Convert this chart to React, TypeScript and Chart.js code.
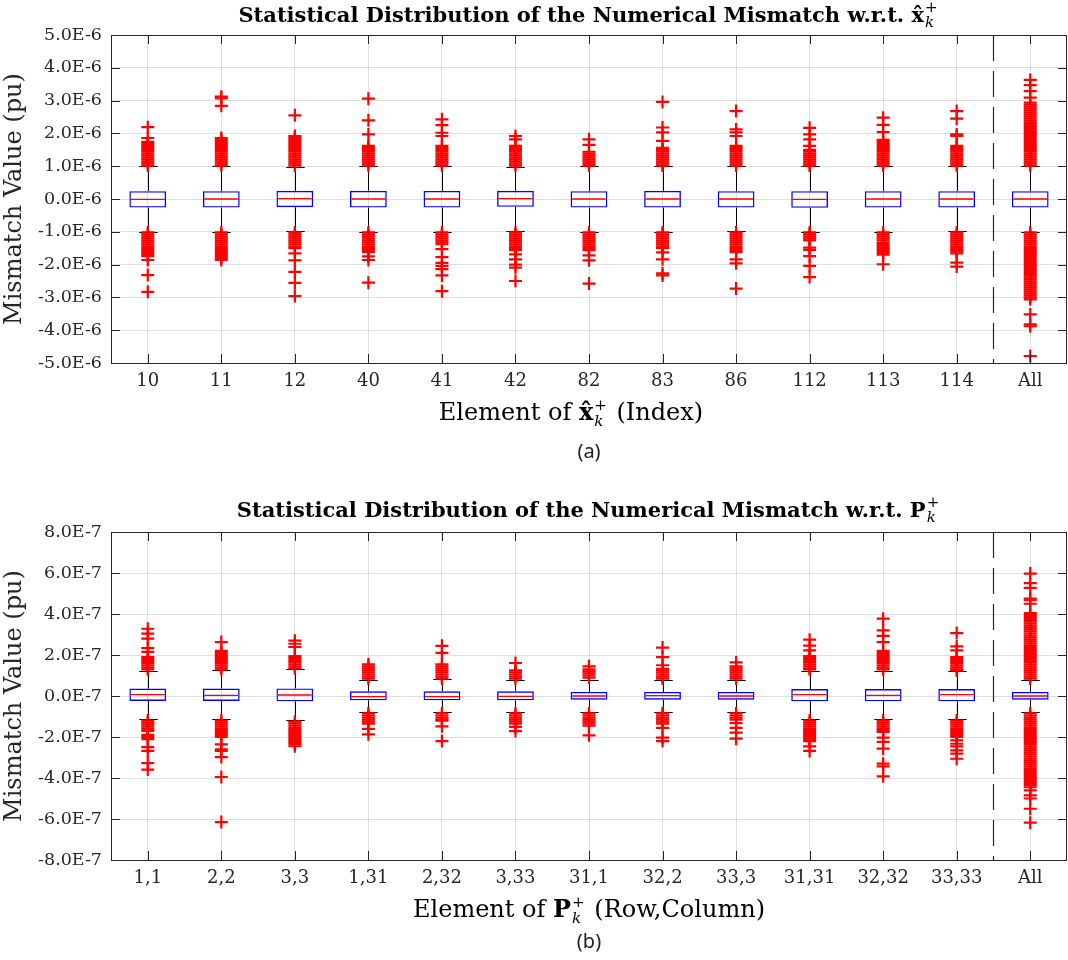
import React, { useEffect, useRef } from 'react';
import { Chart, registerables } from 'chart.js';

Chart.register(...registerables);

// ---------------- Top panel (a): values in units of 1E-6 ----------------
const topCategories = ['10', '11', '12', '40', '41', '42', '82', '83', '86', '112', '113', '114', 'All'];
const topQ1 = [-0.26, -0.26, -0.25, -0.26, -0.26, -0.24, -0.26, -0.26, -0.26, -0.27, -0.26, -0.26, -0.26];
const topQ3 = [0.24, 0.24, 0.25, 0.25, 0.245, 0.25, 0.24, 0.25, 0.24, 0.24, 0.24, 0.24, 0.24];
const topMedian = [-0.01, 0, 0.01, 0, 0, 0.01, 0, 0, 0, -0.01, 0, 0, 0];
const topWhiskerLow = [-1.0, -1.0, -0.99, -1.0, -1.0, -0.97, -1.0, -1.0, -0.98, -1.0, -1.0, -0.99, -1.0];
const topWhiskerHigh = [1.0, 1.0, 0.98, 1.0, 1.0, 0.98, 1.0, 1.0, 1.0, 1.0, 1.0, 1.0, 1.0];
const topOutliers: number[][] = [
  [2.19, 1.86, 1.74, 1.68, 1.62, 1.56, 1.5, 1.44, 1.38, 1.32, 1.26, 1.2, 1.14, 1.08, 1.02, -1.02, -1.08, -1.14, -1.2, -1.26, -1.32, -1.38, -1.44, -1.5, -1.56, -1.62, -1.68, -1.74, -1.86, -2.32, -2.83],
  [3.12, 3.07, 2.84, 1.86, 1.8, 1.74, 1.68, 1.62, 1.56, 1.5, 1.44, 1.38, 1.32, 1.26, 1.2, 1.14, 1.08, 1.02, -1.02, -1.08, -1.14, -1.2, -1.26, -1.32, -1.38, -1.44, -1.5, -1.56, -1.62, -1.68, -1.74, -1.8, -1.86],
  [2.55, 1.92, 1.86, 1.8, 1.74, 1.68, 1.62, 1.56, 1.5, 1.44, 1.38, 1.32, 1.26, 1.2, 1.14, 1.08, 1.02, -1.02, -1.08, -1.14, -1.2, -1.26, -1.32, -1.38, -1.44, -1.5, -1.66, -1.87, -2.22, -2.56, -2.96],
  [3.06, 2.4, 1.97, 1.62, 1.56, 1.5, 1.44, 1.38, 1.32, 1.26, 1.2, 1.14, 1.08, 1.02, -1.02, -1.08, -1.14, -1.2, -1.26, -1.32, -1.38, -1.44, -1.5, -1.56, -1.62, -1.75, -1.86, -2.55],
  [2.43, 2.25, 2.02, 1.92, 1.62, 1.56, 1.5, 1.44, 1.38, 1.32, 1.26, 1.2, 1.14, 1.08, 1.02, -1.02, -1.08, -1.14, -1.2, -1.26, -1.32, -1.38, -1.53, -1.77, -1.95, -2.04, -2.14, -2.33, -2.81],
  [1.92, 1.82, 1.62, 1.56, 1.5, 1.44, 1.38, 1.32, 1.26, 1.2, 1.14, 1.08, 1.02, -1.02, -1.08, -1.14, -1.2, -1.26, -1.32, -1.38, -1.44, -1.5, -1.56, -1.69, -1.84, -2.0, -2.09, -2.5],
  [1.82, 1.65, 1.44, 1.38, 1.32, 1.26, 1.2, 1.14, 1.08, 1.02, -1.02, -1.08, -1.14, -1.2, -1.26, -1.32, -1.38, -1.44, -1.5, -1.56, -1.72, -1.87, -2.58],
  [2.96, 2.18, 2.03, 1.77, 1.56, 1.5, 1.44, 1.38, 1.32, 1.26, 1.2, 1.14, 1.08, 1.02, -1.02, -1.08, -1.14, -1.2, -1.26, -1.32, -1.38, -1.44, -1.5, -1.63, -1.84, -2.27, -2.33],
  [2.68, 2.12, 2.03, 1.92, 1.62, 1.56, 1.5, 1.44, 1.38, 1.32, 1.26, 1.2, 1.14, 1.08, 1.02, -1.02, -1.08, -1.14, -1.2, -1.26, -1.32, -1.38, -1.44, -1.5, -1.56, -1.62, -1.84, -1.96, -2.73],
  [2.17, 1.97, 1.82, 1.62, 1.5, 1.44, 1.38, 1.32, 1.26, 1.2, 1.14, 1.08, 1.02, -1.02, -1.08, -1.14, -1.2, -1.26, -1.48, -1.55, -1.74, -2.04, -2.38],
  [2.48, 2.26, 2.04, 1.8, 1.74, 1.68, 1.62, 1.56, 1.5, 1.44, 1.38, 1.32, 1.26, 1.2, 1.14, 1.08, 1.02, -1.02, -1.08, -1.14, -1.2, -1.26, -1.34, -1.4, -1.46, -1.52, -1.58, -1.64, -1.7, -1.99],
  [2.68, 2.45, 1.97, 1.92, 1.62, 1.56, 1.5, 1.44, 1.38, 1.32, 1.26, 1.2, 1.14, 1.08, 1.02, -1.02, -1.08, -1.14, -1.2, -1.26, -1.32, -1.38, -1.44, -1.5, -1.56, -1.6, -1.66, -1.94, -2.06],
  [3.63, 3.47, 3.29, 3.09, 2.94, 2.88, 2.82, 2.76, 2.7, 2.64, 2.58, 2.52, 2.46, 2.4, 2.34, 2.28, 2.22, 2.16, 2.1, 2.04, 1.98, 1.92, 1.86, 1.8, 1.74, 1.68, 1.62, 1.56, 1.5, 1.44, 1.38, 1.32, 1.26, 1.2, 1.14, 1.08, 1.02,
    -1.02, -1.08, -1.14, -1.2, -1.26, -1.32, -1.38, -1.44, -1.5, -1.56, -1.62, -1.68, -1.74, -1.8, -1.86, -1.92, -1.98, -2.04, -2.1, -2.16, -2.22, -2.28, -2.34, -2.4, -2.46, -2.52, -2.58, -2.64, -2.7, -2.76, -2.82, -2.88, -2.94, -3.0, -3.06, -3.52, -3.82, -3.88, -4.79],
];
const topYMin = -5;
const topYMax = 5;
const topYStep = 1;
const topYExponent = 'E-6';

// ---------------- Bottom panel (b): values in units of 1E-7 ----------------
const botCategories = ['1,1', '2,2', '3,3', '1,31', '2,32', '3,33', '31,1', '32,2', '33,3', '31,31', '32,32', '33,33', 'All'];
const botQ1 = [-0.24, -0.24, -0.26, -0.21, -0.21, -0.21, -0.18, -0.18, -0.18, -0.26, -0.26, -0.26, -0.18];
const botQ3 = [0.36, 0.36, 0.37, 0.23, 0.23, 0.23, 0.2, 0.2, 0.2, 0.34, 0.34, 0.34, 0.2];
const botMedian = [0.065, 0.03, 0.05, -0.03, -0.03, -0.02, 0, 0.02, 0, 0.07, 0.03, 0.07, 0];
const botWhiskerLow = [-1.14, -1.14, -1.19, -0.78, -0.8, -0.78, -0.78, -0.78, -0.78, -1.14, -1.14, -1.1, -0.78];
const botWhiskerHigh = [1.24, 1.25, 1.3, 0.78, 0.81, 0.76, 0.76, 0.8, 0.76, 1.24, 1.24, 1.2, 0.8];
const botOutliers: number[][] = [
  [3.28, 3.04, 2.8, 2.34, 2.15, 1.9, 1.8, 1.7, 1.6, 1.5, 1.4, 1.3, -1.2, -1.3, -1.4, -1.5, -1.6, -1.7, -1.9, -2.0, -2.1, -2.49, -2.68, -3.27, -3.59],
  [2.63, 2.2, 2.1, 2.0, 1.9, 1.8, 1.7, 1.6, 1.5, 1.4, 1.3, -1.2, -1.3, -1.4, -1.5, -1.6, -1.7, -1.8, -1.9, -2.0, -2.36, -2.6, -2.68, -2.98, -3.95, -6.15],
  [2.7, 2.55, 2.39, 1.95, 1.85, 1.75, 1.65, 1.55, 1.45, 1.35, -1.25, -1.35, -1.45, -1.55, -1.65, -1.75, -1.85, -1.95, -2.05, -2.15, -2.25, -2.35, -2.45],
  [1.55, 1.45, 1.35, 1.25, 1.15, 1.05, 0.95, 0.85, -0.85, -0.95, -1.05, -1.15, -1.25, -1.35, -1.6, -1.87],
  [2.45, 2.1, 1.55, 1.45, 1.35, 1.25, 1.15, 1.05, 0.95, 0.85, -0.85, -0.95, -1.05, -1.15, -1.2, -1.48, -2.2],
  [1.61, 1.25, 1.15, 1.05, 0.95, 0.85, -0.85, -0.95, -1.05, -1.15, -1.25, -1.35, -1.51, -1.71],
  [1.45, 1.3, 1.2, 1.1, 1.0, 0.9, -0.85, -0.95, -1.05, -1.15, -1.25, -1.35, -1.45, -1.92],
  [2.36, 1.9, 1.5, 1.33, 1.25, 1.15, 1.05, 0.95, 0.85, -0.85, -0.95, -1.05, -1.15, -1.25, -1.35, -1.55, -2.03, -2.2],
  [1.64, 1.45, 1.35, 1.25, 1.15, 1.05, 0.95, 0.85, -0.85, -0.95, -1.05, -1.15, -1.32, -1.55, -1.79, -2.08],
  [2.75, 2.46, 2.23, 1.95, 1.85, 1.75, 1.65, 1.55, 1.45, 1.35, 1.3, -1.2, -1.3, -1.4, -1.5, -1.6, -1.7, -1.8, -1.9, -2.0, -2.1, -2.2, -2.46, -2.68],
  [3.77, 3.2, 2.93, 2.63, 2.2, 2.1, 2.0, 1.9, 1.8, 1.7, 1.6, 1.5, 1.4, 1.3, -1.2, -1.3, -1.4, -1.5, -1.6, -1.7, -1.75, -2.03, -2.24, -2.57, -3.3, -3.43, -3.92],
  [3.07, 2.42, 2.23, 1.9, 1.8, 1.7, 1.6, 1.5, 1.4, 1.3, 1.25, -1.2, -1.3, -1.4, -1.5, -1.6, -1.7, -1.8, -1.9, -2.0, -2.16, -2.33, -2.46, -2.65, -2.81, -3.06],
  [5.97, 5.51, 5.27, 4.75, 4.67, 4.5, 4.05, 3.95, 3.85, 3.75, 3.65, 3.55, 3.45, 3.35, 3.25, 3.15, 3.05, 2.95, 2.85, 2.75, 2.65, 2.55, 2.45, 2.35, 2.25, 2.15, 2.05, 1.95, 1.85, 1.75, 1.65, 1.55, 1.45, 1.35, 1.25, 1.15, 1.05, 0.95, 0.85,
    -0.85, -0.95, -1.05, -1.15, -1.25, -1.35, -1.45, -1.55, -1.65, -1.75, -1.85, -1.95, -2.05, -2.15, -2.25, -2.35, -2.45, -2.55, -2.65, -2.75, -2.85, -2.95, -3.05, -3.15, -3.25, -3.35, -3.45, -3.55, -3.65, -3.75, -3.85, -3.95, -4.05, -4.15, -4.25, -4.35, -4.45, -4.6, -4.85, -5.0, -5.5, -6.18],
];
const botYMin = -8;
const botYMax = 8;
const botYStep = 2;
const botYExponent = 'E-7';

// ---------------- styling ----------------
const SERIF = '"DejaVu Serif", serif';
const AXIS_COLOR = '#262626';
const GRID_COLOR = 'rgba(38,38,38,0.15)';
const CANVAS_W = 1068;
const CANVAS_H = 480;

type Seg = { t: string; f: string } | { sup: string; sub: string; supF: string; subF: string };

function drawRich(ctx: CanvasRenderingContext2D, segs: Seg[], cx: number, baseY: number, supDy: number, subDy: number) {
  ctx.save();
  ctx.textAlign = 'left';
  ctx.textBaseline = 'alphabetic';
  ctx.fillStyle = '#000';
  const widths = segs.map((s) => {
    if ('t' in s) {
      ctx.font = s.f;
      return ctx.measureText(s.t).width;
    }
    ctx.font = s.supF;
    const a = ctx.measureText(s.sup).width;
    ctx.font = s.subF;
    const b = ctx.measureText(s.sub).width;
    return Math.max(a, b) + 3;
  });
  const total = widths.reduce((p, c) => p + c, 0);
  let x = cx - total / 2;
  segs.forEach((s, i) => {
    if ('t' in s) {
      ctx.font = s.f;
      ctx.fillText(s.t, x, baseY);
    } else {
      ctx.font = s.supF;
      ctx.fillText(s.sup, x + 1, baseY + supDy);
      ctx.font = s.subF;
      ctx.fillText(s.sub, x + 1, baseY + subDy);
    }
    x += widths[i];
  });
  ctx.restore();
}

interface PanelSpec {
  categories: string[];
  q1: number[];
  q3: number[];
  median: number[];
  whiskerLow: number[];
  whiskerHigh: number[];
  outliers: number[][];
  yMin: number;
  yMax: number;
  yStep: number;
  yExp: string;
  plotTop: number;
  plotBottom: number;
  titleSegs: Seg[];
  titleBase: number;
  xTitleSegs: Seg[];
  xTitleBase: number;
  xTitleShift: number;
  panelLabel: string;
  panelLabelY: number;
}

function makeExtras(spec: PanelSpec) {
  return {
    id: 'boxExtras',
    beforeDatasetsDraw(chart: any) {
      const { ctx, scales } = chart;
      const x = scales.x;
      const y = scales.y;
      const spacing = x.getPixelForValue(1) - x.getPixelForValue(0);
      const capHalf = spacing * 0.125;
      ctx.save();
      ctx.strokeStyle = '#000';
      ctx.lineWidth = 1;
      spec.categories.forEach((_, i) => {
        const cx = Math.round(x.getPixelForValue(i)) + 0.5;
        const yq3 = y.getPixelForValue(spec.q3[i]);
        const yq1 = y.getPixelForValue(spec.q1[i]);
        const yh = Math.round(y.getPixelForValue(spec.whiskerHigh[i])) + 0.5;
        const yl = Math.round(y.getPixelForValue(spec.whiskerLow[i])) + 0.5;
        ctx.beginPath();
        ctx.moveTo(cx, yq3);
        ctx.lineTo(cx, yh);
        ctx.moveTo(cx, yq1);
        ctx.lineTo(cx, yl);
        ctx.moveTo(cx - capHalf, yh);
        ctx.lineTo(cx + capHalf, yh);
        ctx.moveTo(cx - capHalf, yl);
        ctx.lineTo(cx + capHalf, yl);
        ctx.stroke();
      });
      ctx.restore();
    },
    afterDatasetsDraw(chart: any) {
      const { ctx, scales } = chart;
      const x = scales.x;
      const y = scales.y;
      const spacing = x.getPixelForValue(1) - x.getPixelForValue(0);
      const half = spacing * 0.25;
      ctx.save();
      ctx.strokeStyle = '#ff0000';
      ctx.lineWidth = 1.3;
      spec.categories.forEach((_, i) => {
        const cx = x.getPixelForValue(i);
        const ym = y.getPixelForValue(spec.median[i]);
        ctx.beginPath();
        ctx.moveTo(cx - half + 1.5, ym);
        ctx.lineTo(cx + half - 1.5, ym);
        ctx.stroke();
      });
      ctx.restore();
    },
    afterDraw(chart: any) {
      const { ctx, scales, chartArea } = chart;
      const x = scales.x;
      const y = scales.y;
      const { left, right, top, bottom } = chartArea;
      ctx.save();
      // dashed separator before "All"
      const n = spec.categories.length;
      const sepX = Math.round((x.getPixelForValue(n - 2) + x.getPixelForValue(n - 1)) / 2) + 0.5;
      ctx.strokeStyle = AXIS_COLOR;
      ctx.lineWidth = 1.2;
      ctx.setLineDash([26, 10]);
      ctx.beginPath();
      ctx.moveTo(sepX, top);
      ctx.lineTo(sepX, bottom);
      ctx.stroke();
      ctx.setLineDash([]);
      // frame
      ctx.lineWidth = 1;
      ctx.strokeStyle = AXIS_COLOR;
      ctx.strokeRect(Math.round(left) + 0.5, Math.round(top) + 0.5, Math.round(right - left) - 1, Math.round(bottom - top));
      // inward ticks
      const tl = 9;
      ctx.beginPath();
      y.ticks.forEach((t: any) => {
        const py = Math.round(y.getPixelForValue(t.value)) + 0.5;
        ctx.moveTo(left, py);
        ctx.lineTo(left + tl, py);
        ctx.moveTo(right, py);
        ctx.lineTo(right - tl, py);
      });
      spec.categories.forEach((_, i) => {
        const px = Math.round(x.getPixelForValue(i)) + 0.5;
        ctx.moveTo(px, top);
        ctx.lineTo(px, top + tl);
        ctx.moveTo(px, bottom);
        ctx.lineTo(px, bottom - tl);
      });
      ctx.stroke();
      ctx.restore();
      const cx = (left + right) / 2;
      drawRich(ctx, spec.titleSegs, cx, spec.titleBase, -10, 5);
      drawRich(ctx, spec.xTitleSegs, cx + spec.xTitleShift, spec.xTitleBase, -10, 6);
      ctx.save();
      ctx.font = '20px "Noto Sans", sans-serif';
      ctx.fillStyle = '#222';
      ctx.textAlign = 'center';
      ctx.textBaseline = 'middle';
      ctx.fillText(spec.panelLabel, cx, spec.panelLabelY);
      ctx.restore();
    },
  };
}

function buildConfig(spec: PanelSpec): any {
  const labels = spec.categories;
  const points: { x: string; y: number }[] = [];
  spec.outliers.forEach((vals, i) => vals.forEach((v) => points.push({ x: labels[i], y: v })));
  return {
    type: 'bar',
    data: {
      labels,
      datasets: [
        {
          type: 'line',
          data: points,
          showLine: false,
          pointStyle: 'cross',
          pointRadius: 6.5,
          pointHoverRadius: 6.5,
          pointBorderWidth: 2.2,
          pointBorderColor: '#ff0000',
          pointBackgroundColor: '#ff0000',
          order: 0,
        },
        {
          type: 'bar',
          data: labels.map((_, i) => [spec.q1[i], spec.q3[i]]),
          backgroundColor: 'rgba(255,255,255,0)',
          borderColor: '#0000ff',
          borderWidth: 1.4,
          borderSkipped: false,
          barPercentage: 0.5,
          categoryPercentage: 1,
          order: 1,
        },
      ],
    },
    options: {
      responsive: false,
      animation: false,
      devicePixelRatio: 1,
      events: [],
      layout: { autoPadding: false, padding: { left: 0, right: 1, top: spec.plotTop, bottom: 0 } },
      plugins: { legend: { display: false }, tooltip: { enabled: false }, title: { display: false } },
      scales: {
        x: {
          type: 'category',
          offset: true,
          grid: { offset: false, color: GRID_COLOR, drawTicks: false },
          border: { display: false },
          ticks: { color: AXIS_COLOR, font: { family: SERIF, size: 18 }, padding: 8, autoSkip: false, maxRotation: 0 },
          afterFit: (s: any) => {
            s.height = CANVAS_H - spec.plotBottom;
            s.paddingLeft = 0;
            s.paddingRight = 0;
          },
        },
        y: {
          type: 'linear',
          min: spec.yMin,
          max: spec.yMax,
          grid: { color: GRID_COLOR, drawTicks: false },
          border: { display: false },
          ticks: {
            stepSize: spec.yStep,
            color: AXIS_COLOR,
            font: { family: SERIF, size: 17.5 },
            padding: 9,
            callback: (v: number) => (Math.abs(v) < 1e-9 ? '0.0' : v.toFixed(1)) + spec.yExp,
          },
          title: {
            display: true,
            text: 'Mismatch Value (pu)',
            color: AXIS_COLOR,
            font: { family: SERIF, size: 24 },
            padding: { top: 0, bottom: 0 },
          },
          afterFit: (s: any) => {
            s.width = 111;
            s.paddingTop = 0;
            s.paddingBottom = 0;
            s.paddingLeft = 0;
            s.paddingRight = 0;
          },
        },
      },
    },
    plugins: [makeExtras(spec)],
  };
}

const TITLE_F = `bold 21px ${SERIF}`;
const SUP_F = `15px ${SERIF}`;
const SUB_F = `italic 15px ${SERIF}`;
const XT_F = `24px ${SERIF}`;
const XT_BOLD = `bold 24px ${SERIF}`;

const topSpec: PanelSpec = {
  categories: topCategories,
  q1: topQ1,
  q3: topQ3,
  median: topMedian,
  whiskerLow: topWhiskerLow,
  whiskerHigh: topWhiskerHigh,
  outliers: topOutliers,
  yMin: topYMin,
  yMax: topYMax,
  yStep: topYStep,
  yExp: topYExponent,
  plotTop: 35,
  plotBottom: 363,
  titleSegs: [
    { t: 'Statistical Distribution of the Numerical Mismatch w.r.t. ', f: TITLE_F },
    { t: 'x\u0302', f: TITLE_F },
    { sup: '+', sub: 'k', supF: SUP_F, subF: SUB_F },
  ],
  titleBase: 22,
  xTitleSegs: [
    { t: 'Element of ', f: XT_F },
    { t: 'x\u0302', f: XT_BOLD },
    { sup: '+', sub: 'k', supF: SUP_F, subF: SUB_F },
    { t: ' (Index)', f: XT_F },
  ],
  xTitleBase: 420,
  xTitleShift: -18,
  panelLabel: '(a)',
  panelLabelY: 452,
};

const botSpec: PanelSpec = {
  categories: botCategories,
  q1: botQ1,
  q3: botQ3,
  median: botMedian,
  whiskerLow: botWhiskerLow,
  whiskerHigh: botWhiskerHigh,
  outliers: botOutliers,
  yMin: botYMin,
  yMax: botYMax,
  yStep: botYStep,
  yExp: botYExponent,
  plotTop: 52,
  plotBottom: 380,
  titleSegs: [
    { t: 'Statistical Distribution of the Numerical Mismatch w.r.t. ', f: TITLE_F },
    { t: 'P', f: TITLE_F },
    { sup: '+', sub: 'k', supF: SUP_F, subF: SUB_F },
  ],
  titleBase: 37,
  xTitleSegs: [
    { t: 'Element of ', f: XT_F },
    { t: 'P', f: XT_BOLD },
    { sup: '+', sub: 'k', supF: SUP_F, subF: SUB_F },
    { t: ' (Row,Column)', f: XT_F },
  ],
  xTitleBase: 437,
  xTitleShift: 0,
  panelLabel: '(b)',
  panelLabelY: 462,
};

function Panel({ spec, top }: { spec: PanelSpec; top: number }) {
  const ref = useRef<HTMLCanvasElement | null>(null);
  useEffect(() => {
    if (!ref.current) return;
    const chart = new Chart(ref.current, buildConfig(spec));
    return () => chart.destroy();
  }, [spec]);
  return (
    <canvas
      ref={ref}
      width={CANVAS_W}
      height={CANVAS_H}
      style={{ position: 'absolute', left: 0, top, width: CANVAS_W, height: CANVAS_H, display: 'block' }}
    />
  );
}

export default function App() {
  return (
    <div style={{ position: 'absolute', left: 0, top: 0, width: CANVAS_W, height: 960, background: '#fff', overflow: 'hidden' }}>
      <Panel spec={topSpec} top={0} />
      <Panel spec={botSpec} top={480} />
    </div>
  );
}
